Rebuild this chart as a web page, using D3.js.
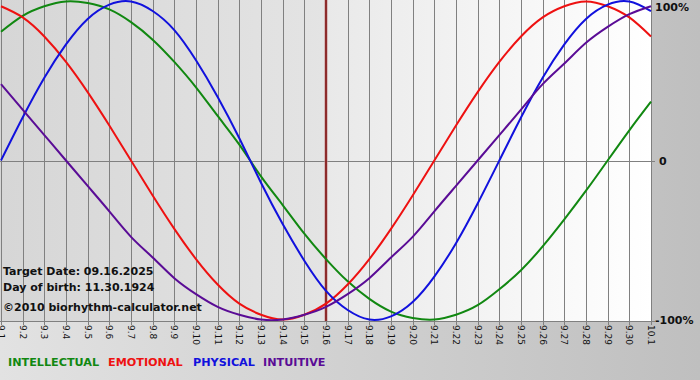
<!DOCTYPE html>
<html><head><meta charset="utf-8">
<script src="https://cdn.jsdelivr.net/npm/d3@7"></script>
<style>html,body{margin:0;padding:0;background:#d0d0d0;}svg{display:block;}</style>
</head><body>
<svg id="c" width="700" height="380"></svg>
<script>
const days = ["9.1","9.2","9.3","9.4","9.5","9.6","9.7","9.8","9.9","9.10","9.11","9.12","9.13","9.14","9.15","9.16","9.17","9.18","9.19","9.20","9.21","9.22","9.23","9.24","9.25","9.26","9.27","9.28","9.29","9.30","10.1"];
const intellectual = [81,91,97,100,99,95,87,76,62,46,28,10,-10,-28,-46,-62,-76,-87,-95,-99,-100,-97,-91,-81,-69,-54,-37,-19,0,19,37];
const emotional = [97,90,78,62,43,22,0,-22,-43,-62,-78,-90,-97,-100,-97,-90,-78,-62,-43,-22,0,22,43,62,78,90,97,100,97,90,78];
const physical = [0,27,52,73,89,98,100,94,82,63,40,14,-14,-40,-63,-82,-94,-100,-98,-89,-73,-52,-27,0,27,52,73,89,98,100,94];
const intuitive = [48,32,16,0,-16,-32,-48,-61,-74,-84,-92,-97,-100,-100,-97,-92,-84,-74,-61,-48,-32,-16,0,16,32,48,61,74,84,92,97];
const seriesNames = ["INTELLECTUAL","EMOTIONAL","PHYSICAL","INTUITIVE"];
const yTickLabels = ["100%","0","-100%"];
const yTickValues = [100,0,-100];
const targetIndex = 15;
const infoLines = ["Target Date: 09.16.2025","Day of birth: 11.30.1924","\u00a92010 biorhythm-calculator.net"];

const series = [
  {name: seriesNames[0], values: intellectual, color: "#118811"},
  {name: seriesNames[1], values: emotional, color: "#ee1111"},
  {name: seriesNames[2], values: physical, color: "#1111dd"},
  {name: seriesNames[3], values: intuitive, color: "#5a0c96"}
];

const svg = d3.select("#c");
const W = 700, H = 380;
const plotL = 1, plotR = 651, plotT = 0, plotB = 321;
const x = d3.scaleLinear().domain([0, days.length - 1]).range([plotL, plotR]);
const y = d3.scaleLinear().domain([-100, 100]).range([319.5, 1.5]);
const font = "'DejaVu Sans', Verdana, sans-serif";

const defs = svg.append("defs");
function grad(id, stops, x1, y1, x2, y2) {
  const g = defs.append("linearGradient").attr("id", id)
    .attr("x1", x1).attr("y1", y1).attr("x2", x2).attr("y2", y2);
  stops.forEach(s => g.append("stop").attr("offset", s[0]).attr("stop-color", s[1]));
}
grad("bg", [[0, "#e2e2e2"], [1, "#bfbfbf"]], 0, 0, 1, 0);
grad("past", [[0, "#d6d6d6"], [1, "#e4e4e4"]], 0, 0, 1, 0);
grad("future", [[0, "#e9e9e9"], [1, "#ffffff"]], 0, 0, 1, 0);

svg.append("rect").attr("width", W).attr("height", H).attr("fill", "url(#bg)");
svg.append("rect").attr("x", 0).attr("y", plotT).attr("width", x(targetIndex) - 0).attr("height", plotB - plotT).attr("fill", "url(#past)");
svg.append("rect").attr("x", x(targetIndex)).attr("y", plotT).attr("width", plotR - x(targetIndex)).attr("height", plotB - plotT).attr("fill", "url(#future)");

// vertical grid lines
svg.append("g").selectAll("line").data(days).join("line")
  .attr("x1", (d, i) => Math.round(x(i)) + 0.5).attr("x2", (d, i) => Math.round(x(i)) + 0.5)
  .attr("y1", plotT).attr("y2", plotB + 4)
  .attr("stroke", "#808080").attr("stroke-width", 1);

// horizontal lines (zero + bottom axis)
svg.append("line").attr("x1", 0).attr("x2", plotR + 4).attr("y1", Math.round(y(0)) + 0.5).attr("y2", Math.round(y(0)) + 0.5)
  .attr("stroke", "#808080");
svg.append("line").attr("x1", 0).attr("x2", plotR + 4).attr("y1", plotB + 0.5).attr("y2", plotB + 0.5)
  .attr("stroke", "#808080");

// x tick labels (rotated)
svg.append("g").selectAll("text").data(days).join("text")
  .attr("transform", (d, i) => `translate(${Math.round(x(i)) + 0.5 - 3.5},${plotB + 4}) rotate(90)`)
  .attr("font-family", font).attr("font-size", 9).attr("fill", "#111")
  .text(d => d);

// right labels
svg.append("g").selectAll("text").data(yTickValues).join("text")
  .attr("x", (d, i) => i === 1 ? 659 : 655)
  .attr("y", d => y(d) + (d === 100 ? 9 : 4))
  .attr("font-family", font).attr("font-size", 11).attr("font-weight", "bold").attr("fill", "#111")
  .text((d, i) => yTickLabels[i]);

// target date line
svg.append("line").attr("x1", x(targetIndex)).attr("x2", x(targetIndex)).attr("y1", plotT).attr("y2", plotB)
  .attr("stroke", "#c89090").attr("stroke-width", 3);
svg.append("line").attr("x1", x(targetIndex)).attr("x2", x(targetIndex)).attr("y1", plotT).attr("y2", plotB)
  .attr("stroke", "#7a0a0a").attr("stroke-width", 1.5);

// info text
svg.append("g").selectAll("text").data(infoLines).join("text")
  .attr("x", 3).attr("y", (d, i) => [275, 291, 311][i])
  .attr("font-family", font).attr("font-size", 11).attr("font-weight", "bold").attr("fill", "#111")
  .text(d => d);

// curves
const line = d3.line().x((d, i) => x(i)).y(d => y(d)).curve(d3.curveNatural);
const clip = defs.append("clipPath").attr("id", "clipP");
clip.append("rect").attr("x", 0).attr("y", 0).attr("width", plotR + 1).attr("height", plotB);
const g = svg.append("g").attr("clip-path", "url(#clipP)");
series.forEach(s => {
  g.append("path").datum(s.values).attr("d", line)
    .attr("fill", "none").attr("stroke", s.color).attr("stroke-width", 2);
});

// legend
const legendX = [8, 108, 193, 263];
svg.append("g").selectAll("text").data(series).join("text")
  .attr("x", (d, i) => legendX[i]).attr("y", 366)
  .attr("font-family", font).attr("font-size", 11.2).attr("font-weight", "bold")
  .attr("fill", d => d.color)
  .text(d => d.name);
</script>
</body></html>
